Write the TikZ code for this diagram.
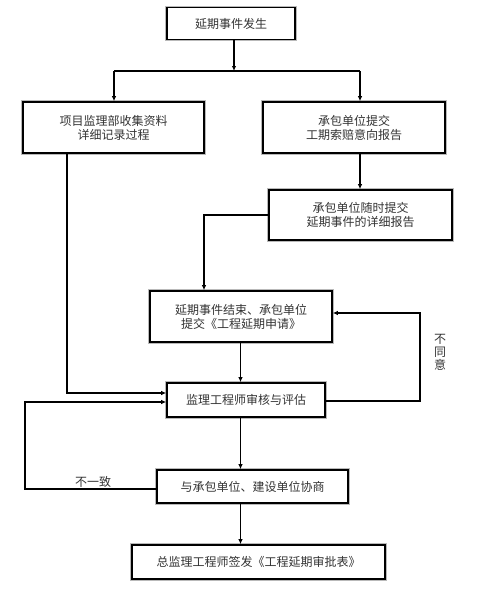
\documentclass[tikz,border=0pt]{standalone}
\usepackage{fontspec}
\setmainfont{Noto Sans CJK SC}
\usetikzlibrary{arrows.meta,calc}
\begin{document}
\begin{tikzpicture}[x=1pt,y=-1pt,
  box/.style={rectangle, draw=black, line width=1.6pt, fill=white,
    preaction={draw=gray!55, line width=3.2pt},
    inner sep=0pt, align=center, font=\fontsize{12}{14}\selectfont, text=black!80},
  arw/.style={line width=1.2pt, -{Latex[length=5pt,width=4.5pt]}},
  ln/.style={line width=1.2pt},
  lbl/.style={font=\fontsize{12}{13}\selectfont, inner sep=0pt, align=center, text=black!80}]
\useasboundingbox (0,0) rectangle (480,600);
\node[box, minimum width=128, minimum height=32] (b1) at (231,23.5) {延期事件发生};
\node[box, minimum width=181, minimum height=51] (b2) at (113.5,127.5) {项目监理部收集资料\\详细记录过程};
\node[box, minimum width=182, minimum height=51] (b3) at (354,127.5) {承包单位提交\\工期索赔意向报告};
\node[box, minimum width=183, minimum height=50] (b4) at (360.5,215) {承包单位随时提交\\延期事件的详细报告};
\node[box, minimum width=182, minimum height=51] (b5) at (241,316.5) {延期事件结束、承包单位\\提交《工程延期申请》};
\node[box, minimum width=158, minimum height=34] (b6) at (246,400) {监理工程师审核与评估};
\node[box, minimum width=191, minimum height=33] (b7) at (252.5,486.5) {与承包单位、建设单位协商};
\node[box, minimum width=253, minimum height=34] (b8) at (258.5,562) {总监理工程师签发《工程延期审批表》};
\coordinate (split) at (234,71);
\coordinate (lx) at (114,0);
\coordinate (rx) at (360,0);
\coordinate (leftcol) at (67,0);
\coordinate (midcol) at (204,0);
\coordinate (col) at (240.5,0);
\coordinate (ry) at (420,0);
\coordinate (farleft) at (25,0);
\coordinate (y1) at (0,393);
\coordinate (y2) at (0,402);
\coordinate (y3) at (0,313);
\coordinate (y4) at (0,401);
\coordinate (y5) at (0,489);
% branch
\draw[arw] (b1.south -| split) -- (split);
\draw[ln] (split -| lx) -- (split -| rx);
\draw[arw] (split -| lx) -- (b2.north -| lx);
\draw[arw] (split -| rx) -- (b3.north -| rx);
% left column
\draw[arw] (b2.south -| leftcol) -- (leftcol |- y1) -- (b6.west |- y1);
% right column
\draw[arw] (b3.south -| rx) -- (b4.north -| rx);
\draw[arw] (b4.west) -- (b4.west -| midcol) -- (b5.north -| midcol);
% main column
\draw[arw] (b5.south -| col) -- (b6.north -| col);
\draw[arw] (b6.south -| col) -- (b7.north -| col);
\draw[arw] (b7.south -| col) -- (b8.north -| col);
% disagree loop
\draw[arw] (b6.east |- y4) -- (ry |- y4) -- (ry |- y3) -- (b5.east |- y3);
% inconsistent loop
\draw[arw] (b7.west |- y5) -- (farleft |- y5) -- (farleft |- y2) -- (b6.west |- y2);
\node[lbl] (l1) at (440,352) {不\\同\\意};
\node[lbl] (l2) at (93,482) {不一致};
\end{tikzpicture}
\end{document}
